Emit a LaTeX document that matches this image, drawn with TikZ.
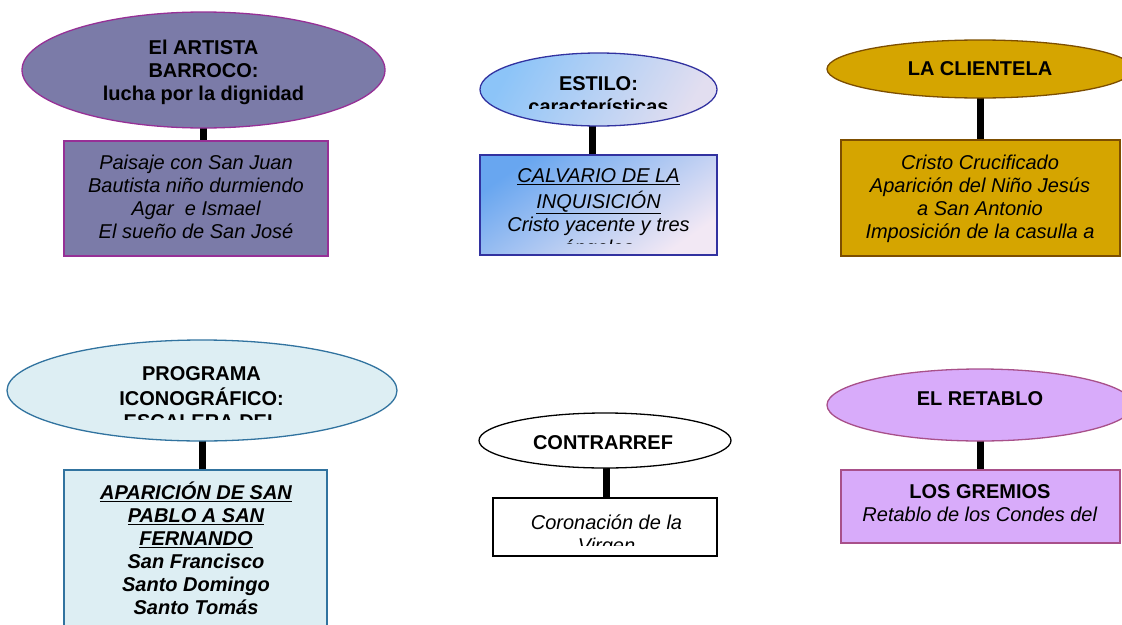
\documentclass[tikz,border=0pt]{standalone}
\usepackage{fontspec}
\setmainfont{Liberation Sans}
\usetikzlibrary{shapes.geometric}
\pgfdeclarelayer{bg}
\pgfsetlayers{bg,main}

\definecolor{plumfill}{RGB}{123,123,168}
\definecolor{plumline}{RGB}{150,48,150}
\definecolor{skyA}{RGB}{140,196,248}
\definecolor{skyB}{RGB}{226,222,240}
\definecolor{boxA}{RGB}{104,166,240}
\definecolor{boxM}{RGB}{150,200,248}
\definecolor{boxB}{RGB}{242,232,244}
\definecolor{navyline}{RGB}{50,50,160}
\definecolor{goldfill}{RGB}{213,165,0}
\definecolor{goldline}{RGB}{125,78,0}
\definecolor{icefill}{RGB}{221,238,243}
\definecolor{iceline}{RGB}{49,115,159}
\definecolor{lilacfill}{RGB}{216,171,250}
\definecolor{lilacline}{RGB}{168,80,138}

\begin{document}
\begin{tikzpicture}[x=1pt,y=-1pt,
  oval/.style={ellipse, draw, line width=1.3pt, inner sep=0pt},
  card/.style={rectangle, draw, line width=1.3pt, inner sep=0pt},
  txt/.style={align=center, inner sep=0pt, font=\fontsize{20}{23}\selectfont},
  head/.style={txt, font=\fontsize{20}{23}\selectfont\bfseries},
  body/.style={txt, font=\fontsize{20}{23}\selectfont\itshape},
  link/.style={line width=7pt, black}]
\useasboundingbox (0,0) rectangle (1122,624);
\clip (0,0) rectangle (1122,624);

% ---- top row ----
\node[oval, fill=plumfill, draw=plumline, minimum width=363pt, minimum height=116pt] (e1) at (203.5,70) {};
\node[card, fill=plumfill, draw=plumline, minimum width=264pt, minimum height=115pt] (b1) at (196,198.5) {};
\node[head] (t1) at (203.5,72.5) {\strut El ARTISTA\\\strut BARROCO:\\\strut lucha por la dignidad};
\node[body] (u1) at (196,199.5) {\strut Paisaje con San Juan\\\strut Bautista niño durmiendo\\\strut Agar\ \ e Ismael\\\strut El sueño de San José};

\node[oval, left color=skyA, right color=skyB, shading angle=60, draw=navyline, minimum width=237pt, minimum height=73pt] (e2) at (598.5,89.5) {};
\node[card, left color=boxA, middle color=boxM, right color=boxB, shading angle=35, draw=navyline, minimum width=237pt, minimum height=100pt] (b2) at (598.5,205) {};
\begin{scope}
  \clip (470,50) rectangle (730,108);
  \node[head] (t2) at (598.5,97) {\strut ESTILO:\\\strut características};
\end{scope}
\begin{scope}
  \clip (470,150) rectangle (730,243);
  \node[body] (u2) at (598.5,214) {\strut\underline{CALVARIO DE LA}\\\strut\underline{INQUISICIÓN}\\\strut Cristo yacente y tres\\\strut ángeles};
\end{scope}

\node[oval, fill=goldfill, draw=goldline, minimum width=306pt, minimum height=58pt] (e3) at (980,69) {};
\node[card, fill=goldfill, draw=goldline, minimum width=279pt, minimum height=116pt] (b3) at (980.5,198) {};
\node[head] (t3) at (980,70.5) {\strut LA CLIENTELA};
\node[body] (u3) at (980,199.3) {\strut Cristo Crucificado\\\strut Aparición del Niño Jesús\\\strut a San Antonio\\\strut Imposición de la casulla a};

% ---- bottom row ----
\node[oval, fill=icefill, draw=iceline, minimum width=390pt, minimum height=101pt] (e4) at (202,390.5) {};
\node[card, fill=icefill, draw=iceline, minimum width=263pt, minimum height=180pt] (b4) at (195.5,560) {};
\begin{scope}
  \clip (0,330) rectangle (400,419);
  \node[head] (t4) at (201.5,400) {\strut PROGRAMA\\\strut ICONOGRÁFICO:\\\strut ESCALERA DEL};
\end{scope}
\node[txt, font=\fontsize{20}{23}\selectfont\bfseries\itshape] (u4) at (196,552) {\strut\underline{APARICIÓN DE SAN}\\\strut\underline{PABLO A SAN}\\\strut\underline{FERNANDO}\\\strut San Francisco\\\strut Santo Domingo\\\strut Santo Tomás};

\node[oval, fill=white, draw=black, minimum width=252pt, minimum height=55pt] (e5) at (605,440.5) {};
\node[card, fill=white, draw=black, minimum width=224pt, minimum height=58pt] (b5) at (605,527) {};
\node[head] (t5) at (603,444.5) {\strut CONTRARREF};
\begin{scope}
  \clip (490,495) rectangle (720,545);
  \node[body] (u5) at (606.5,536) {\strut Coronación de la\\\strut Virgen};
\end{scope}

\node[oval, fill=lilacfill, draw=lilacline, minimum width=306pt, minimum height=72pt] (e6) at (980,405) {};
\node[card, fill=lilacfill, draw=lilacline, minimum width=279pt, minimum height=73pt] (b6) at (980.5,506.5) {};
\node[head] (t6) at (980,400.5) {\strut EL RETABLO};
\node[txt] (u6) at (980,505.5) {\strut\textbf{LOS GREMIOS}\\\strut\textit{Retablo de los Condes del}};

% ---- connectors, behind the shapes ----
\coordinate (k2) at ([xshift=-6.5pt]e2.center);
\coordinate (k5) at ([xshift=1pt]e5.center);
\begin{pgfonlayer}{bg}
  \draw[link] (e1.center) -- (e1.center |- b1.north);
  \draw[link] (k2) -- (k2 |- b2.north);
  \draw[link] (e3.center) -- (e3.center |- b3.north);
  \draw[link] (e4.center) -- (e4.center |- b4.north);
  \draw[link] (k5) -- (k5 |- b5.north);
  \draw[link] (e6.center) -- (e6.center |- b6.north);
\end{pgfonlayer}
\end{tikzpicture}
\end{document}
